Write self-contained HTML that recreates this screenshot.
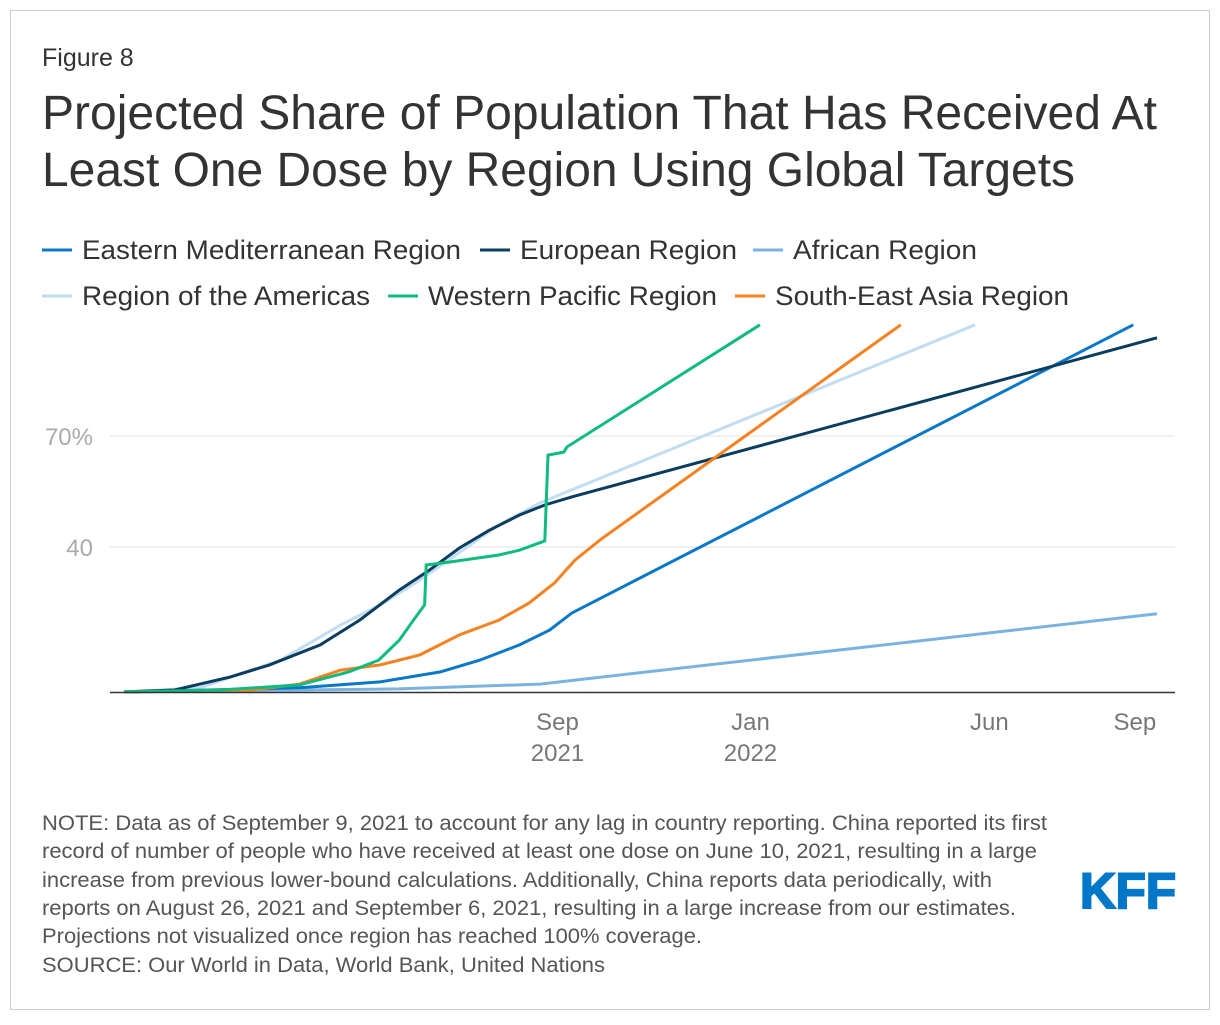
<!DOCTYPE html>
<html><head><meta charset="utf-8"><style>
body{margin:0;background:#fff;font-family:"Liberation Sans",Arial,sans-serif}
svg text{font-family:"Liberation Sans",Arial,sans-serif}
</style></head><body>
<svg width="1220" height="1020">
<rect x="10.5" y="10.5" width="1199" height="999" fill="#fff" stroke="#ccc"/>
<text x="42" y="66" font-size="25" fill="#333">Figure 8</text>
<text x="42" y="129" font-size="48" fill="#333" textLength="1115" lengthAdjust="spacingAndGlyphs">Projected Share of Population That Has Received At</text>
<text x="42" y="186" font-size="48" fill="#333" textLength="1033" lengthAdjust="spacingAndGlyphs">Least One Dose by Region Using Global Targets</text>
<g id="legend"></g>
<line x1="110" y1="436" x2="1175" y2="436" stroke="#e2e2e2"/>
<line x1="110" y1="547" x2="1175" y2="547" stroke="#e2e2e2"/>
<text x="93" y="445" font-size="24" fill="#aaa" text-anchor="end">70%</text>
<text x="93" y="556" font-size="24" fill="#aaa" text-anchor="end">40</text>
<g id="series"></g>
<line x1="110" y1="692.5" x2="1175" y2="692.5" stroke="#333" stroke-width="1.5"/>
<g id="xticks"></g>
<g font-size="21" fill="#555">
<text x="42" y="830" textLength="1005" lengthAdjust="spacingAndGlyphs">NOTE: Data as of September 9, 2021 to account for any lag in country reporting. China reported its first</text>
<text x="42" y="858" textLength="995" lengthAdjust="spacingAndGlyphs">record of number of people who have received at least one dose on June 10, 2021, resulting in a large</text>
<text x="42" y="887" textLength="950" lengthAdjust="spacingAndGlyphs">increase from previous lower-bound calculations. Additionally, China reports data periodically, with</text>
<text x="42" y="915" textLength="974" lengthAdjust="spacingAndGlyphs">reports on August 26, 2021 and September 6, 2021, resulting in a large increase from our estimates.</text>
<text x="42" y="943" textLength="660" lengthAdjust="spacingAndGlyphs">Projections not visualized once region has reached 100% coverage.</text>
<text x="42" y="972" textLength="563" lengthAdjust="spacingAndGlyphs">SOURCE: Our World in Data, World Bank, United Nations</text>
</g>
<text x="1080" y="908" font-size="50" font-weight="bold" fill="#0077c8" textLength="96" lengthAdjust="spacingAndGlyphs" stroke="#0077c8" stroke-width="2">KFF</text>
</svg>
<script>
// days since Dec 1 2020
const emDays=[0,111,162,200,225,250,269,283,638];
const emVals=[0.3,1.4,3,5.7,8.9,13,17,21.6,99.5];
const euDays=[0,32,67,92,124,149,174,193,212,231,250,266,283,653];
const euVals=[0.3,0.8,4.3,7.6,13,19.7,27.8,33.2,39.2,44,48.1,50.8,53,96];
const afDays=[0,174,263,653];
const afVals=[0.3,1.1,2.4,21.4];
const amDays=[0,48,99,137,162,187,212,237,263,283,538];
const amVals=[0.3,1.4,8.9,18.4,23.8,30.5,38,45.4,51.4,54.9,99.5];
const wpDays=[0,61,111,142,161,174,183,190,191,206,237,250,266,268,278,280,402];
const wpVals=[0.3,0.8,2.2,5.7,8.9,14.3,19.7,23.8,34.6,35.4,37.3,38.6,41.1,64.3,65.1,66.5,99.5];
const seDays=[0,80,111,137,162,187,212,237,256,272,285,301,491];
const seVals=[0.3,0.8,2.4,6.2,7.6,10.3,15.7,19.7,24.3,29.7,35.9,41.4,99.5];
const tickDays=[274,396,547,639];
const tickLabels=[["Sep","2021"],["Jan","2022"],["Jun",""],["Sep",""]];
const xs=d=>124+d*1.582, ys=v=>693-v*3.7;
const NS="http://www.w3.org/2000/svg";
const series=[
 ["African Region",afDays,afVals,"#7ab3e0","series-african"],
 ["Region of the Americas",amDays,amVals,"#c2ddf1","series-americas"],
 ["Eastern Mediterranean Region",emDays,emVals,"#0a78c8","series-eastern-mediterranean"],
 ["European Region",euDays,euVals,"#0b3d5e","series-european"],
 ["South-East Asia Region",seDays,seVals,"#f58220","series-south-east-asia"],
 ["Western Pacific Region",wpDays,wpVals,"#10bb7f","series-western-pacific"]];
const g=document.getElementById('series');
series.forEach(s=>{
 const p=document.createElementNS(NS,'path');
 p.setAttribute('d',s[1].map((d,i)=>(i?'L':'M')+xs(d).toFixed(1)+','+ys(s[2][i]).toFixed(1)).join(''));
 p.setAttribute('fill','none');p.setAttribute('stroke',s[3]);p.setAttribute('stroke-width','3');
 
 
 g.appendChild(p);
});
const tg=document.getElementById('xticks');
tickDays.forEach((d,i)=>{
 tickLabels[i].forEach((l,j)=>{ if(!l)return;
  const t=document.createElementNS(NS,'text');
  t.setAttribute('x',xs(d));t.setAttribute('y',730+j*31);t.setAttribute('text-anchor','middle');
  t.setAttribute('font-size','24');t.setAttribute('fill','#777');t.textContent=l;
  
  
  tg.appendChild(t);});
});
const leg=[["Eastern Mediterranean Region","#0a78c8",42,250,379],["European Region","#0b3d5e",480,250,217],["African Region","#7ab3e0",753,250,184],
 ["Region of the Americas","#c2ddf1",42,296,288],["Western Pacific Region","#10bb7f",388,296,289],["South-East Asia Region","#f58220",735,296,294]];
const lg=document.getElementById('legend');
leg.forEach(e=>{
 const gg=document.createElementNS(NS,'g');
 
 
 gg.innerHTML=`<line x1="${e[2]}" y1="${e[3]}" x2="${e[2]+30}" y2="${e[3]}" stroke="${e[1]}" stroke-width="3"/><text x="${e[2]+40}" y="${e[3]+9}" font-size="27" fill="#333" textLength="${e[4]}" lengthAdjust="spacingAndGlyphs">${e[0]}</text>`;
 lg.appendChild(gg);
});
</script>
</body></html>
